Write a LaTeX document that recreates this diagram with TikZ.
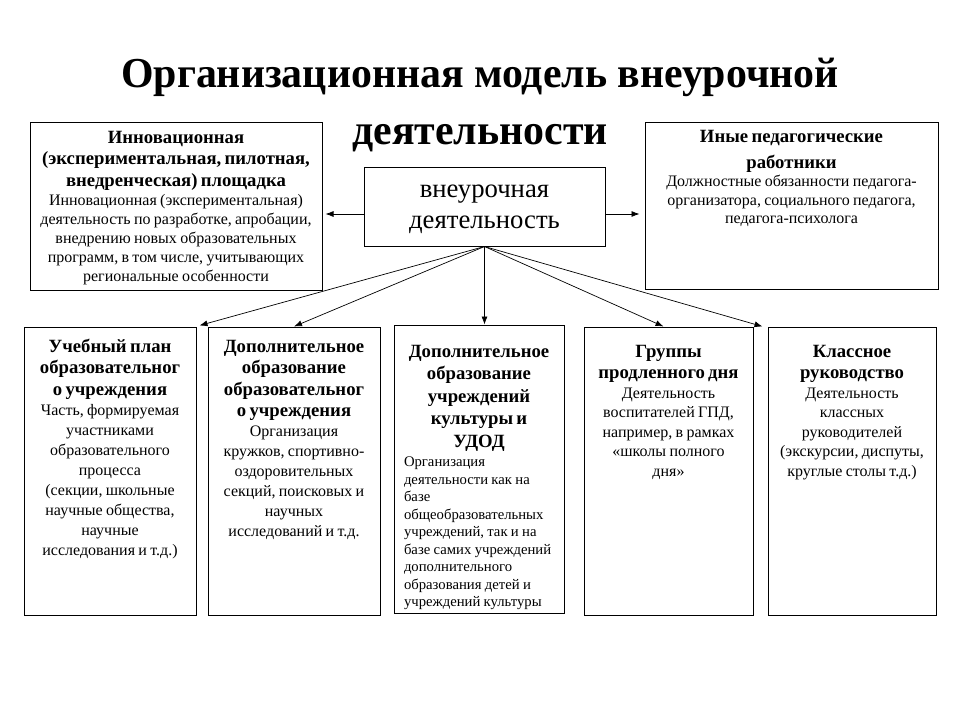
\documentclass[tikz,border=0pt]{standalone}
\usepackage{fontspec}
\setmainfont{Liberation Serif}
\usetikzlibrary{arrows.meta}

% шрифты: заголовок блока и основной текст
\newcommand{\zagol}[1]{\fontsize{18.7}{#1}\selectfont\bfseries}
\newcommand{\osnov}[2]{\fontsize{#1}{#2}\selectfont\mdseries}

\tikzset{
  box/.style={draw, line width=1pt, inner sep=0pt},
  txt/.style={align=center, inner sep=0pt, anchor=base},
  heading/.style={inner sep=0pt, anchor=base, xscale=0.98, font=\fontsize{42.7}{50}\selectfont\bfseries},
  arr/.style={-{Latex[length=8pt,width=6pt]}, line width=0.7pt},
}

\begin{document}
\begin{tikzpicture}[x=1pt,y=-1pt]
\useasboundingbox (0,0) rectangle (960,720);
% заголовок
\node[heading] (t1) at (480,87) {Организационная модель внеурочной};
\node[heading] (t2) at (480,144) {деятельности};
% верхний ряд
\node[box, minimum width=292pt, minimum height=168pt] (innov) at (176,206) {};
\node[box, minimum width=293pt, minimum height=167pt] (other) at (791.5,205.5) {};
\node[box, minimum width=241pt, minimum height=79pt] (vneur) at (484.5,206.5) {};
\node[txt, text width=230pt] (vneur-t) at (484.5,197)
  {\osnov{26.7}{31}внеурочная\\деятельность\par};
\node[txt, text width=286pt] (innov-t) at (176,143)
  {\zagol{21.5}Инновационная\\(экспериментальная, пилотная,\\внедренческая) площадка\par
   \osnov{16}{19}Инновационная (экспериментальная)\\деятельность по разработке, апробации,\\внедрению новых образовательных\\программ, в том числе, учитывающих\\региональные особенности\par};
\node[txt, text width=286pt] (other-t) at (791.5,142)
  {\zagol{26}Иные педагогические\\работники\par
   \osnov{16}{18.5}Должностные обязанности педагога-\\организатора, социального педагога,\\педагога-психолога\par};
% нижний ряд
\foreach \name/\x/\y/\w in {b1/110/471/172, b2/294/471/172, b3/479/469/170, b4/668.5/471/169, b5/852/471/168} {
  \node[box, minimum width=\w pt, minimum height=288pt] (\name) at (\x,\y) {};
}
\node[txt, text width=166pt] (b1-t) at (110,352)
  {\zagol{21.5}Учебный план\\образовательног\\о учреждения\par
   \osnov{16}{20}Часть, формируемая\\участниками\\образовательного\\процесса\\(секции, школьные\\научные общества,\\научные\\исследования и т.д.)\par};
\node[txt, text width=166pt] (b2-t) at (294,352)
  {\zagol{21.5}Дополнительное\\образование\\образовательног\\о учреждения\par
   \osnov{16}{20}Организация\\кружков, спортивно-\\оздоровительных\\секций, поисковых и\\научных\\исследований и т.д.\par};
\node[txt, text width=150pt] (b3-t) at (479,357)
  {\zagol{22.5}Дополнительное\\образование\\учреждений\\культуры и\\УДОД\par\vspace{2pt}
   \raggedright\osnov{14.7}{17.5}Организация\\деятельности как на\\базе\\общеобразовательных\\учреждений, так и на\\базе самих учреждений\\дополнительного\\образования детей и\\учреждений культуры\par};
\node[txt, text width=164pt] (b4-t) at (668.5,357)
  {\zagol{21.5}Группы\\продленного дня\par
   \osnov{16}{19.5}Деятельность\\воспитателей ГПД,\\например, в рамках\\«школы полного\\дня»\par};
\node[txt, text width=164pt] (b5-t) at (852,357)
  {\zagol{21.5}Классное\\руководство\par
   \osnov{16}{19.5}Деятельность\\классных\\руководителей\\(экскурсии, диспуты,\\круглые столы т.д.)\par};
% стрелки
\coordinate (vl) at ([yshift=-7.5pt]vneur.west);
\coordinate (vr) at ([yshift=-7.5pt]vneur.east);
\draw[arr, shorten >=3pt] (vl) -- (vl -| innov.east);
\draw[arr, shorten >=5pt] (vr) -- (vr -| other.west);
\draw[arr] (vneur.south) -- ([xshift=3pt,yshift=1pt]b1.north east);
\draw[arr] (vneur.south) -- (b2.north);
\draw[arr] (vneur.south) -- (vneur.south |- b3.north);
\draw[arr] (vneur.south) -- ([xshift=-5pt]b4.north);
\draw[arr] (vneur.south) -- ([xshift=-5pt]b5.north west);
\end{tikzpicture}
\end{document}
